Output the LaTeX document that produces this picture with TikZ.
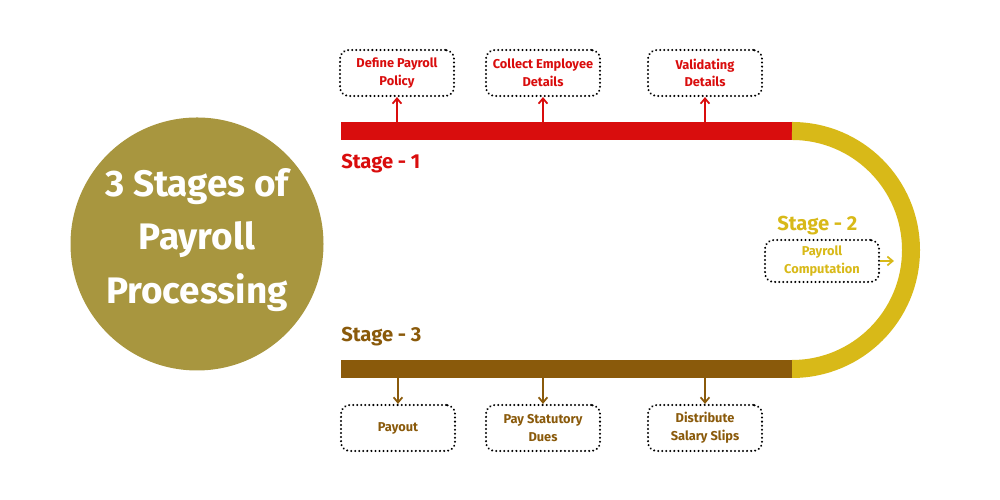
\documentclass[tikz,border=0pt]{standalone}
\usepackage{fontspec}
\setmainfont{Fira Sans}
\usepackage{tikz}
\usetikzlibrary{arrows.meta,positioning,calc}

\definecolor{stageone}{HTML}{D90D0D}
\definecolor{stagetwo}{HTML}{D8B918}
\definecolor{stagethree}{HTML}{8A5A0B}
\definecolor{titlegold}{HTML}{A8963F}

\begin{document}
\begin{tikzpicture}[
    >={Straight Barb[length=3pt,width=5pt]},
    task/.style={
        draw=black,
        dash pattern=on 0.1pt off 2.2pt,
        line cap=round,
        line width=1.2pt,
        rounded corners=5pt,
        align=center,
        font=\fontsize{7.3}{10}\selectfont\bfseries,
        minimum width=2.28cm,
        minimum height=0.92cm
    },
    stagelabel/.style={
        anchor=west,
        inner sep=0pt,
        font=\fontsize{11.5}{14}\selectfont\bfseries
    },
    track/.style={
        line width=0.36cm
    }
]

\useasboundingbox (0,0) rectangle (20,10);

% ------------------------------------------------
% Title
% ------------------------------------------------

\fill[titlegold] (3.94,5.12) circle (2.53);

\node[text=white, align=center,
      font=\fontsize{21}{30.5}\selectfont\bfseries] (title) at (3.94,5.2)
    {3 Stages of\\Payroll\\Processing};

% ------------------------------------------------
% Track
% ------------------------------------------------

\coordinate (r0) at (6.82,7.38);
\coordinate (r1) at (15.84,7.38);
\coordinate (b0) at (6.82,2.62);
\coordinate (b1) at (15.84,2.62);

\draw[track, stageone] (r0) -- (r1);
\draw[track, stagetwo] (r1) arc[start angle=90, end angle=-90, radius=2.38];
\draw[track, stagethree] (b1) -- (b0);

\node[stagelabel, text=stageone] (s1) at (6.82,6.72) {Stage - 1};
\node[stagelabel, text=stagetwo] (s2) at (15.54,5.48) {Stage - 2};
\node[stagelabel, text=stagethree] (s3) at (6.82,3.26) {Stage - 3};

% ------------------------------------------------
% Stage 1 tasks
% ------------------------------------------------

\node[task, text=stageone] (t1) at (7.94,8.54)
    {Define Payroll\\Policy};
\node[task, text=stageone] (t2) at (10.86,8.54)
    {Collect Employee\\Details};
\node[task, text=stageone] (t3) at (14.10,8.54)
    {Validating\\Details};

% ------------------------------------------------
% Stage 2 task
% ------------------------------------------------

\node[task, text=stagetwo, minimum height=0.84cm] (t4) at (16.44,4.78)
    {Payroll\\Computation};

\coordinate (arc2) at (17.88,4.78);

% ------------------------------------------------
% Stage 3 tasks
% ------------------------------------------------

\node[task, text=stagethree] (t5) at (7.96,1.44)
    {Payout};
\node[task, text=stagethree] (t6) at (10.86,1.44)
    {Pay Statutory\\Dues};
\node[task, text=stagethree] (t7) at (14.10,1.44)
    {Distribute\\Salary Slips};

% ------------------------------------------------
% Connections
% ------------------------------------------------

\draw[->, stageone, line width=1pt] (t1.south |- r0) -- (t1.south);
\draw[->, stageone, line width=1pt] (t2.south |- r0) -- (t2.south);
\draw[->, stageone, line width=1pt] (t3.south |- r0) -- (t3.south);

\draw[->, stagetwo, line width=1pt] (t4.east) -- (arc2);

\draw[->, stagethree, line width=1pt] (t5.north |- b0) -- (t5.north);
\draw[->, stagethree, line width=1pt] (t6.north |- b0) -- (t6.north);
\draw[->, stagethree, line width=1pt] (t7.north |- b0) -- (t7.north);

\end{tikzpicture}
\end{document}
